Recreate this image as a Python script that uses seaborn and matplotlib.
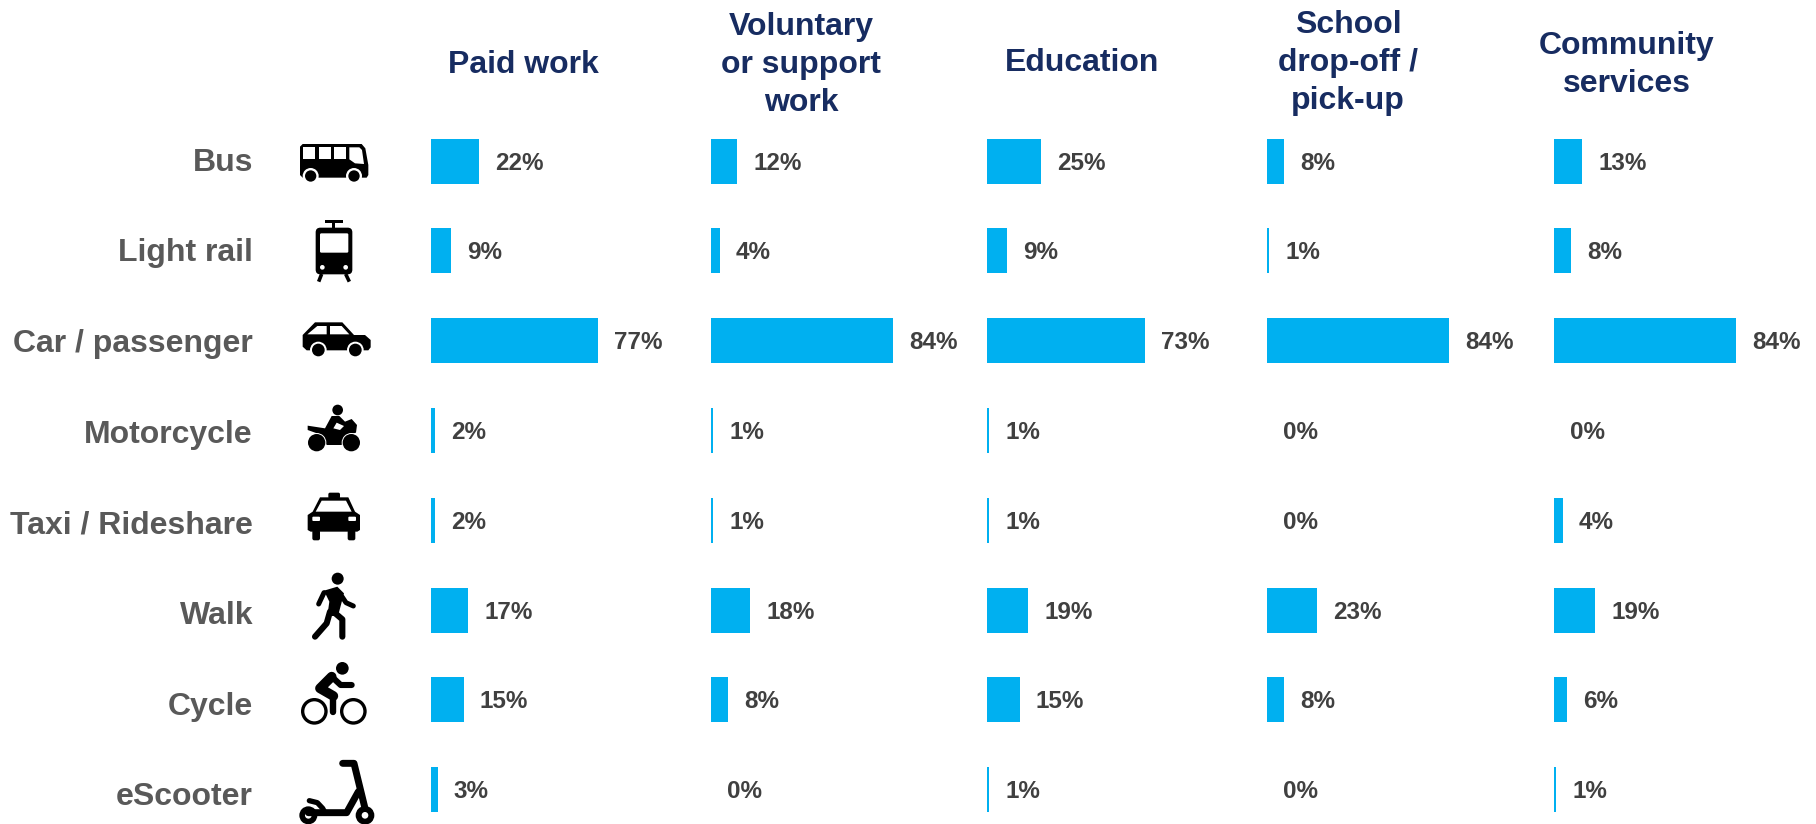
import pandas as pd
import seaborn as sns
import matplotlib
matplotlib.use('Agg')
import matplotlib.pyplot as plt
from matplotlib.patches import Circle, FancyBboxPatch, Polygon, Rectangle

# values
modes = ['Bus', 'Light rail', 'Car / passenger', 'Motorcycle', 'Taxi / Rideshare', 'Walk', 'Cycle', 'eScooter']
paid_work = [22, 9, 77, 2, 2, 17, 15, 3]
voluntary = [12, 4, 84, 1, 1, 18, 8, 0]
education = [25, 9, 73, 1, 1, 19, 15, 1]
school = [8, 1, 84, 0, 0, 23, 8, 0]
community = [13, 8, 84, 0, 4, 19, 6, 1]
panel_titles = ['Paid work', 'Voluntary\nor support\nwork', 'Education', 'School\ndrop-off /\npick-up', 'Community\nservices']
panel_values = [paid_work, voluntary, education, school, community]

W, H = 1816, 824
BLUE = '#00B0F0'
NAVY = '#172C61'
GREY = '#595959'
DARK = '#404040'

sns.set_theme(style='white')
plt.rcParams['font.family'] = ['Liberation Sans', 'DejaVu Sans']

fig = plt.figure(figsize=(W / 100, H / 100), dpi=100, facecolor='white')

# pixel layout of the panels
panel_left = [431, 711, 987, 1267, 1554]
title_x = [523, 801, 1082, 1348, 1627]
title_y = [65, 65, 63, 63, 65]
px_per_pct = 2.167
row_h = 89.8
first_row = 161
top = first_row - row_h / 2
for i, vals in enumerate(panel_values):
    ax = fig.add_axes([panel_left[i] / W, 0, 240 / W, (H - top) / H])
    df = pd.DataFrame({'mode': modes, 'share': vals})
    sns.barplot(data=df, y='mode', x='share', color=BLUE, saturation=1, width=45 / row_h, ax=ax, linewidth=0)
    ax.set_xlim(0, 240 / px_per_pct)
    ax.set_ylim((H - first_row) / row_h, -0.5)
    labels = ax.bar_label(ax.containers[0], fmt='%d%%', padding=11, fontsize=17.5, fontweight='bold', color=DARK)
    for t in labels:
        t.xyann = (11.7, -1.5)  # sit a little lower than the bar centre
    ax.axis('off')
    ax.patch.set_alpha(0)

# overlay in pixel coordinates for the headers, row names and icons
ov = fig.add_axes([0, 0, 1, 1], zorder=5)
ov.set_xlim(0, W)
ov.set_ylim(H, 0)
ov.axis('off')
ov.patch.set_alpha(0)

for i, t in enumerate(panel_titles):
    ov.text(title_x[i], title_y[i], t, ha='center', va='center', fontsize=23, fontweight='bold',
            color=NAVY, linespacing=1.35)
for i, m in enumerate(modes):
    ov.text(253, 162.5 + i * 90.7, m, ha='right', va='center', fontsize=23, fontweight='bold', color=GREY)


# icons: coordinates are taken from 3x crops, so convert them back
class Icon:
    def __init__(self, ox, oy):
        self.ox, self.oy = ox, oy

    def p(self, x, y):
        return self.ox + x / 3, self.oy + y / 3

    def poly(self, pts, c='black'):
        ov.add_patch(Polygon([self.p(*q) for q in pts], closed=True, fc=c, ec='none'))

    def box(self, x0, y0, x1, y1, r=0, c='black'):
        a, b = self.p(x0, y0)
        w, h = (x1 - x0) / 3, (y1 - y0) / 3
        if r:
            ov.add_patch(FancyBboxPatch((a + r / 3, b + r / 3), w - 2 * r / 3, h - 2 * r / 3,
                                        boxstyle='round,pad=%.2f,rounding_size=%.2f' % (r / 3, r / 3), fc=c, ec='none'))
        else:
            ov.add_patch(Rectangle((a, b), w, h, fc=c, ec='none'))

    def dot(self, x, y, r, c='black'):
        ov.add_patch(Circle(self.p(x, y), r / 3, fc=c, ec='none'))

    def ring(self, x, y, r, lw):
        ov.add_patch(Circle(self.p(x, y), r / 3, fc='none', ec='black', lw=lw))

    def line(self, pts, lw, cap='round'):
        xs, ys = zip(*[self.p(*q) for q in pts])
        ov.plot(xs, ys, color='black', lw=lw, solid_capstyle=cap, solid_joinstyle='round')


top_icons = Icon(280, 120)
low_icons = Icon(280, 480)

# bus
ic = top_icons
ic.poly([(68, 72), (245, 72), (256, 85), (265, 135), (265, 165), (260, 173), (68, 173), (60, 165), (60, 80)])
for x0, x1 in [(70, 105), (116, 152), (163, 198)]:
    ic.box(x0, 82, x1, 118, c='white')
ic.poly([(208, 82), (238, 82), (246, 90), (252, 132), (225, 130), (208, 118)], c='white')
for x in [92, 222]:
    ic.dot(x, 168, 24, c='white')
    ic.dot(x, 168, 17)

# light rail
ic.box(134, 300, 189, 310)
ic.box(157, 308, 165, 326)
ic.box(107, 323, 217, 463, r=14)
ic.box(120, 340, 205, 398, r=4, c='white')
for x in [127, 197]:
    ic.dot(x, 442, 7, c='white')
ic.line([(125, 462), (116, 485)], 2.6, cap='butt')
ic.line([(197, 462), (208, 485)], 2.6, cap='butt')

# car
ic.poly([(68, 645), (105, 607), (187, 607), (222, 645), (255, 645), (272, 660), (272, 682), (265, 691),
         (80, 691), (68, 680)])
ic.poly([(82, 643), (112, 618), (140, 618), (140, 643)], c='white')
ic.poly([(150, 618), (185, 618), (208, 643), (150, 643)], c='white')
for x in [115, 226]:
    ic.dot(x, 690, 25, c='white')
    ic.dot(x, 690, 19)

# motorcycle
ic.dot(173, 870, 16)
ic.poly([(83, 917), (135, 925), (155, 888), (178, 888), (195, 905), (215, 897), (231, 915), (228, 938),
         (200, 945), (185, 975), (140, 975), (125, 945), (83, 930)])
ic.poly([(160, 925), (180, 930), (192, 918), (170, 908)], c='white')
for x in [110, 214]:
    ic.dot(x, 968, 29, c='white')
    ic.dot(x, 968, 26)

# taxi
ic = low_icons
ic.box(145, 38, 180, 56, r=5)
ic.poly([(120, 52), (205, 52), (225, 95), (240, 105), (240, 150), (232, 155), (92, 155), (83, 150), (83, 105), (98, 95)])
ic.poly([(107, 95), (125, 62), (198, 62), (215, 95)], c='white')
ic.box(97, 110, 120, 123, r=3, c='white')
ic.box(205, 110, 228, 123, r=3, c='white')
ic.box(97, 150, 120, 181, r=6)
ic.box(203, 150, 226, 181, r=6)

# walk
ic.dot(173, 296, 18)
ic.poly([(132, 332), (172, 320), (192, 340), (174, 408), (142, 408), (148, 365)])
ic.line([(132, 338), (116, 372)], 3.6)
ic.line([(186, 350), (198, 368), (220, 378)], 3.6)
ic.line([(160, 395), (187, 418), (187, 470)], 4.4)
ic.line([(150, 395), (140, 430), (105, 470)], 4.4)

# cycle
ic.dot(187, 565, 19)
ic.ring(103, 694, 35, 2.4)
ic.ring(220, 694, 35, 2.4)
ic.line([(155, 590), (120, 625), (160, 648)], 7)
ic.line([(160, 648), (160, 695)], 4.6)
ic.line([(155, 590), (182, 615), (215, 615)], 4.4)

# eScooter
ic.line([(188, 850), (222, 850), (255, 985)], 5)
ic.line([(85, 998), (200, 998), (235, 935)], 5)
ic.line([(88, 962), (112, 968), (128, 985), (135, 998)], 3.8)
ic.dot(85, 1006, 27)
ic.dot(85, 1006, 10, c='white')
ic.dot(255, 1006, 28)
ic.dot(255, 1006, 10, c='white')

plt.savefig('out.png', dpi=100)
